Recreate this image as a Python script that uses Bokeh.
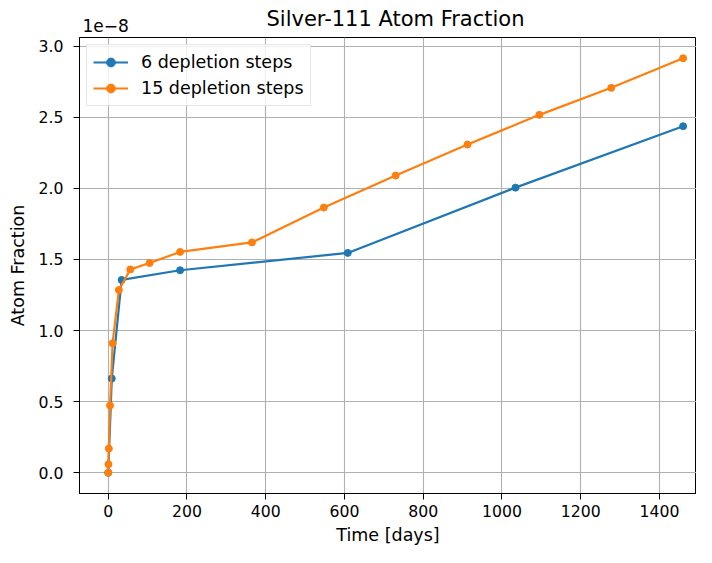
from bokeh.plotting import figure
from bokeh.models import FixedTicker, CustomJSTickFormatter, Range1d, Legend, Label
from bokeh.embed import file_html
from bokeh.resources import INLINE

# ---- data ----
days_6 = [0, 9, 34, 182.5, 608.3, 1034.2, 1460]
frac_6 = [0.0, 0.663e-8, 1.356e-8, 1.424e-8, 1.546e-8, 2.005e-8, 2.437e-8]

days_15 = [0, 0.5, 1.5, 4.5, 11, 27, 56, 105, 182.5, 365, 547.5, 730, 912.5, 1095, 1277.5, 1460]
frac_15 = [0.0, 0.06e-8, 0.17e-8, 0.473e-8, 0.91e-8, 1.285e-8, 1.43e-8, 1.475e-8, 1.553e-8,
           1.62e-8, 1.865e-8, 2.09e-8, 2.308e-8, 2.517e-8, 2.707e-8, 2.915e-8]

x_ticks = [0, 200, 400, 600, 800, 1000, 1200, 1400]
y_ticks = [0.0, 0.5e-8, 1.0e-8, 1.5e-8, 2.0e-8, 2.5e-8, 3.0e-8]

series_labels = ["6 depletion steps", "15 depletion steps"]
colors = ["#1f77b4", "#ff7f0e"]
title_text = "Silver-111 Atom Fraction"
offset_text = "1e\u22128"

FONT = "DejaVu Sans"
TICK_FS = "15.7px"
LABEL_FS = "17.5px"
TITLE_FS = "21px"

W, H = 696, 547
LEFT, TOP, BOTTOM = 79, 36, 52
X0, X1 = -73, 1494
Y0, Y1 = -0.146e-8, 3.061e-8

p = figure(width=W, height=H, output_backend="svg", toolbar_location=None,
           x_range=Range1d(X0, X1), y_range=Range1d(Y0, Y1),
           min_border_left=LEFT, min_border_right=0, min_border_top=TOP, min_border_bottom=BOTTOM)

# title and axis offset text, drawn in the panel above the frame (not clipped)
title_center_px = 395 - LEFT  # centre of the original axes box
title_x = X0 + title_center_px * (X1 - X0) / (W - LEFT)
title_label = Label(x=title_x, y=Y1, text=title_text, y_offset=19,
                    text_font=FONT, text_font_size=TITLE_FS, text_color="black",
                    text_align="center", text_baseline="alphabetic")
p.add_layout(title_label, "above")
off_label = Label(x=X0, y=Y1, text=offset_text, x_offset=3, y_offset=12,
                  text_font=FONT, text_font_size="17px", text_color="black",
                  text_align="left", text_baseline="alphabetic")
p.add_layout(off_label, "above")

p.background_fill_color = "white"
p.border_fill_color = "white"
p.outline_line_color = "black"
p.outline_line_width = 1

# grid
for g in (p.xgrid, p.ygrid):
    g.grid_line_color = "#b0b0b0"
    g.grid_line_width = 1.1
p.xgrid.ticker = FixedTicker(ticks=x_ticks)
p.ygrid.ticker = FixedTicker(ticks=y_ticks)

# axes
p.xaxis.ticker = FixedTicker(ticks=x_ticks)
p.yaxis.ticker = FixedTicker(ticks=y_ticks)
p.yaxis.formatter = CustomJSTickFormatter(code="return (tick/1e-8).toFixed(1);")
p.xaxis.axis_label = "Time [days]"
p.yaxis.axis_label = "Atom Fraction"
for ax in (p.xaxis, p.yaxis):
    ax.axis_label_text_font = FONT
    ax.axis_label_text_font_size = LABEL_FS
    ax.axis_label_text_font_style = "normal"
    ax.axis_label_text_color = "black"
    ax.major_label_text_font = FONT
    ax.major_label_text_font_size = TICK_FS
    ax.major_label_text_color = "black"
    ax.major_tick_out = 6
    ax.major_tick_in = 0
    ax.minor_tick_out = 0
    ax.minor_tick_in = 0
    ax.major_tick_line_color = "black"
    ax.axis_line_color = "black"
p.xaxis.major_label_standoff = 5
p.xaxis.axis_label_standoff = 5
p.yaxis.major_label_standoff = 10
p.yaxis.axis_label_standoff = 8

# series
items = []
for xs, ys, lab, c in [(days_6, frac_6, series_labels[0], colors[0]),
                       (days_15, frac_15, series_labels[1], colors[1])]:
    r1 = p.line(xs, ys, line_color=c, line_width=2.2)
    r2 = p.scatter(xs, ys, size=7, fill_color=c, line_color=c)
    items.append((lab, [r1, r2]))

legend = Legend(items=items, location="top_left")
legend.label_text_font = FONT
legend.label_text_font_size = LABEL_FS
legend.label_text_color = "black"
legend.border_line_color = "#cccccc"
legend.border_line_width = 1
legend.background_fill_color = "white"
legend.background_fill_alpha = 0.8
legend.glyph_width = 35
legend.glyph_height = 22
legend.label_height = 22
legend.spacing = 4
legend.padding = 6
legend.margin = 7
legend.label_standoff = 13
p.add_layout(legend, "center")

open("out.html", "w").write(file_html(p, INLINE))
